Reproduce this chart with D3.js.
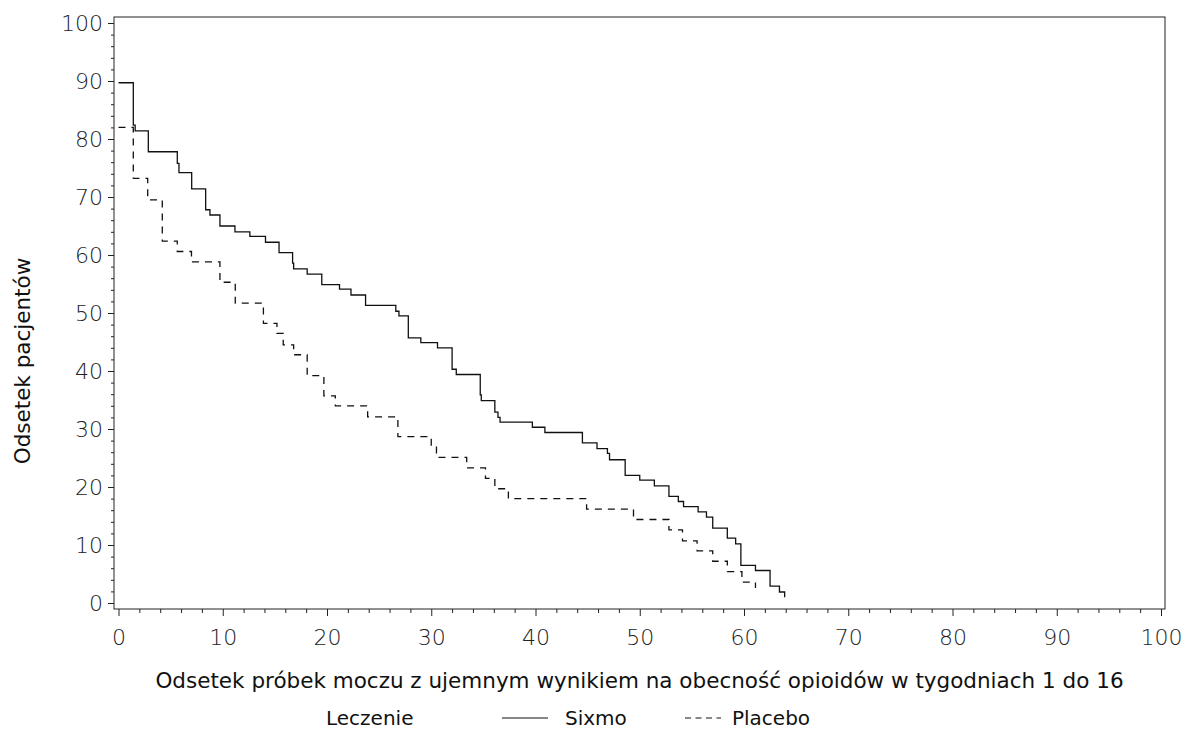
<!DOCTYPE html>
<html>
<head>
<meta charset="utf-8">
<script src="https://cdn.jsdelivr.net/npm/d3@7"></script>
<style>
  body { margin: 0; background: #fff; }
  svg { display: block; }
</style>
</head>
<body>
<svg id="chart"></svg>
<script>
// step points: x = % negative urine samples, y = % patients (value holds until next x)
var sixmoX = [0, 1.42, 1.6, 2.86, 5.64, 5.8, 7.02, 8.36, 8.77, 9.73, 11.17, 12.6, 14.1, 15.4, 16.7, 16.8,
    18.1, 19.5, 21.2, 22.3, 23.7, 26.6, 26.9, 27.8, 29.0, 30.6, 32.0, 32.4, 34.7, 34.8, 36.1, 36.4, 36.6,
    39.7, 40.9, 44.5, 45.9, 46.9, 47.1, 48.6, 50.0, 51.4, 52.8, 53.7, 54.2, 55.6, 56.4, 57.0, 58.4, 59.2,
    59.7, 61.1, 62.5, 63.4, 63.9];
var sixmoY = [89.7, 82.4, 81.4, 77.8, 75.8, 74.2, 71.4, 67.8, 66.9, 65.0, 64.0, 63.2, 62.2, 60.4, 58.6, 57.6,
    56.7, 54.9, 54.1, 53.1, 51.3, 50.3, 49.5, 45.7, 44.9, 44.0, 40.3, 39.4, 35.9, 34.9, 32.9, 32.0, 31.2,
    30.3, 29.4, 27.6, 26.6, 25.8, 24.7, 22.0, 21.2, 20.2, 18.4, 17.5, 16.6, 15.7, 14.8, 12.9, 11.2, 10.2,
    6.5, 5.6, 2.9, 1.9, 1.0];
var placeboX = [0, 1.42, 2.8, 4.2, 5.64, 7.0, 9.73, 11.2, 13.9, 15.2, 15.8, 16.8, 18.1, 19.7, 20.8, 23.9,
    26.8, 30.0, 30.5, 33.4, 35.2, 36.1, 37.4, 44.9, 49.4, 52.8, 54.1, 55.5, 57.0, 58.4, 59.8, 61.1];
var placeboY = [82.0, 73.2, 69.5, 62.4, 60.6, 58.8, 55.3, 51.7, 48.2, 46.5, 44.5, 42.8, 39.2, 35.7, 34.0, 32.1,
    28.7, 27.0, 25.1, 23.3, 21.5, 19.7, 18.0, 16.2, 14.4, 12.6, 10.7, 9.0, 7.2, 5.4, 3.6, 2.6];

var seriesNames = ["Sixmo", "Placebo"];
var legendTitle = "Leczenie";
var xTitle = "Odsetek próbek moczu z ujemnym wynikiem na obecność opioidów w tygodniach 1 do 16";
var yTitle = "Odsetek pacjentów";
var majorTicks = [0, 10, 20, 30, 40, 50, 60, 70, 80, 90, 100];

var params = {
    width: 1187,
    height: 731,
    frame: { left: 114, top: 17, right: 1165, bottom: 609 },
    xRange: [118.5, 1161],
    yRange: [603, 23],
    ink: "#111",
    tickColor: "#222",
    tickFont: "'DejaVu Sans', Verdana, sans-serif",
    titleFont: "'DejaVu Sans', Verdana, sans-serif",
    titleSize: 21.5,
    legendY: 725,
    dash: "7,6"
};

var svg = d3.select("#chart")
    .attr("width", params.width)
    .attr("height", params.height);

var x = d3.scaleLinear().domain([0, 100]).range(params.xRange);
var y = d3.scaleLinear().domain([0, 100]).range(params.yRange);

var minorTicks = d3.range(0, 101, 2).filter(function(v) { return v % 10 !== 0; });

// frame
svg.append("rect")
    .attr("x", params.frame.left)
    .attr("y", params.frame.top)
    .attr("width", params.frame.right - params.frame.left)
    .attr("height", params.frame.bottom - params.frame.top)
    .attr("fill", "none")
    .attr("stroke", params.tickColor)
    .attr("stroke-width", 1);

function styleAxis(g) {
    g.select(".domain").remove();
    g.selectAll("line").attr("stroke", params.tickColor);
    g.selectAll("text")
        .attr("fill", params.tickColor)
        .attr("font-family", params.tickFont)
        .attr("font-weight", 200)
        .attr("font-size", 22);
}

// x axis
svg.append("g")
    .attr("transform", "translate(0," + params.frame.bottom + ")")
    .call(d3.axisBottom(x).tickValues(minorTicks).tickSize(4).tickFormat(""))
    .call(styleAxis);
svg.append("g")
    .attr("transform", "translate(0," + params.frame.bottom + ")")
    .call(d3.axisBottom(x).tickValues(majorTicks).tickSize(7).tickPadding(13))
    .call(styleAxis);

// y axis
svg.append("g")
    .attr("transform", "translate(" + params.frame.left + ",0)")
    .call(d3.axisLeft(y).tickValues(minorTicks).tickSize(3).tickFormat(""))
    .call(styleAxis);
svg.append("g")
    .attr("transform", "translate(" + params.frame.left + ",0)")
    .call(d3.axisLeft(y).tickValues(majorTicks).tickSize(6).tickPadding(5))
    .call(styleAxis);

// curves
var stepLine = d3.line()
    .x(function(d) { return x(d[0]); })
    .y(function(d) { return y(d[1]); })
    .curve(d3.curveStepAfter);

svg.append("path")
    .datum(d3.zip(sixmoX, sixmoY))
    .attr("d", stepLine)
    .attr("fill", "none")
    .attr("stroke", params.ink)
    .attr("stroke-width", 1.3);

svg.append("path")
    .datum(d3.zip(placeboX, placeboY))
    .attr("d", stepLine)
    .attr("fill", "none")
    .attr("stroke", params.ink)
    .attr("stroke-width", 1.3)
    .attr("stroke-dasharray", params.dash);

// titles
svg.append("text")
    .attr("x", (params.frame.left + params.frame.right) / 2)
    .attr("y", 688)
    .attr("text-anchor", "middle")
    .attr("font-family", params.titleFont)
    .attr("font-size", params.titleSize)
    .attr("fill", params.ink)
    .text(xTitle);

svg.append("text")
    .attr("transform", "translate(30,361) rotate(-90)")
    .attr("text-anchor", "middle")
    .attr("font-family", params.titleFont)
    .attr("font-size", params.titleSize)
    .attr("fill", params.ink)
    .text(yTitle);

// legend
var legend = svg.append("g")
    .attr("font-family", params.titleFont)
    .attr("font-size", 20)
    .attr("fill", params.ink);
var lineY = params.legendY - 7;
legend.append("text").attr("x", 326).attr("y", params.legendY).text(legendTitle);
legend.append("line").attr("x1", 502).attr("x2", 548).attr("y1", lineY).attr("y2", lineY)
    .attr("stroke", params.ink).attr("stroke-width", 1.2);
legend.append("text").attr("x", 565).attr("y", params.legendY).text(seriesNames[0]);
legend.append("line").attr("x1", 685).attr("x2", 721).attr("y1", lineY).attr("y2", lineY)
    .attr("stroke", params.ink).attr("stroke-width", 1.2).attr("stroke-dasharray", "6,4.5");
legend.append("text").attr("x", 732).attr("y", params.legendY).text(seriesNames[1]);
</script>
</body>
</html>
